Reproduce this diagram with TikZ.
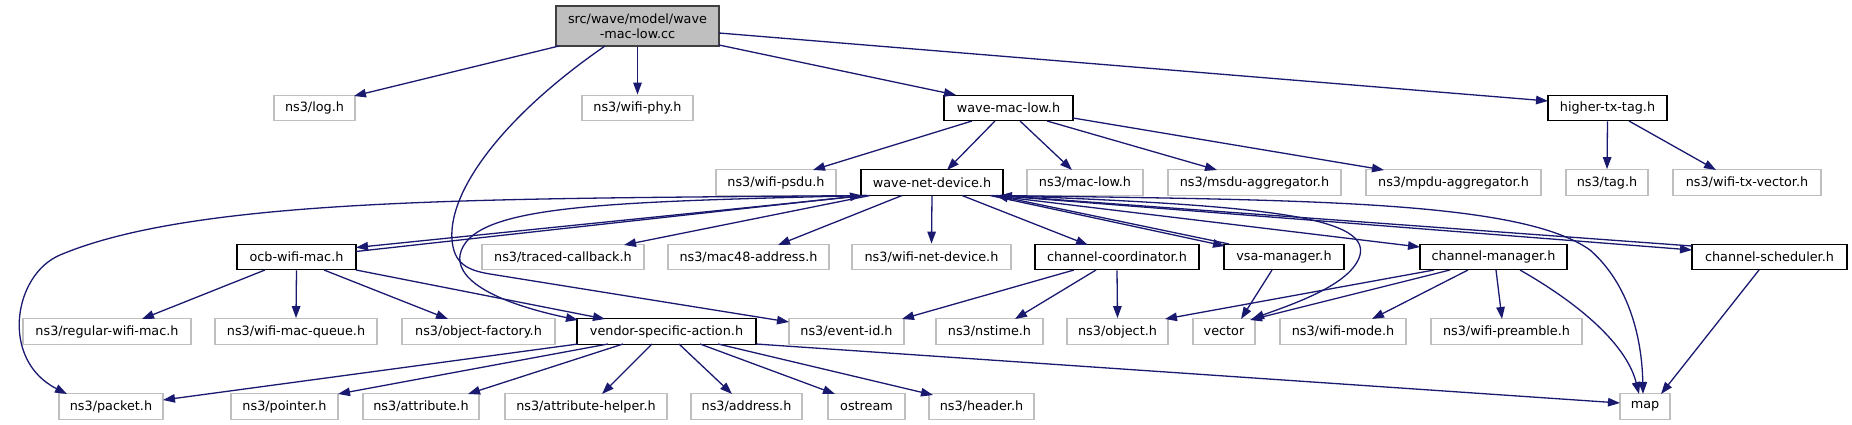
\documentclass[tikz,border=0pt]{standalone}
\usepackage{fontspec}
\setmainfont{DejaVu Sans}
\usetikzlibrary{arrows.meta,calc}
\definecolor{edgec}{HTML}{191970}
\definecolor{extb}{HTML}{BFBFBF}
\definecolor{rootf}{HTML}{BFBFBF}
\definecolor{rootb}{HTML}{404040}
\begin{document}
\begin{tikzpicture}[x=1pt,y=-1pt,
  box/.style={rectangle, inner sep=0pt, minimum height=25.5pt, font=\fontsize{12.8}{15}\selectfont, line width=1.3pt, fill=white},
  ext/.style={box, draw=extb},
  int/.style={box, draw=black},
  rootbox/.style={box, draw=rootb, fill=rootf, minimum height=40pt, align=center},
  edge/.style={draw=edgec, line width=1.3pt, -{Triangle[length=12pt,width=8.5pt]}},
]
\useasboundingbox (0,0) rectangle (1852,425);
% row 1
\node[rootbox, minimum width=163pt] (root) at (637.5,26) {src/wave/model/wave\\-mac-low.cc};
% row 2
\node[ext, minimum width=81pt] (log) at (314.5,108) {ns3/log.h};
\node[ext, minimum width=111pt] (wphy) at (637.5,108) {ns3/wifi-phy.h};
\node[int, minimum width=129pt] (wml) at (1008.5,108) {wave-mac-low.h};
\node[int, minimum width=119pt] (htt) at (1607.5,108) {higher-tx-tag.h};
% row 3
\node[ext, minimum width=120pt] (psdu) at (776,182.5) {ns3/wifi-psdu.h};
\node[int, minimum width=142pt] (wnd) at (932,182.5) {wave-net-device.h};
\node[ext, minimum width=116pt] (maclow) at (1085,182.5) {ns3/mac-low.h};
\node[ext, minimum width=173pt] (msdu) at (1254.5,182.5) {ns3/msdu-aggregator.h};
\node[ext, minimum width=175pt] (mpdu) at (1453.5,182.5) {ns3/mpdu-aggregator.h};
\node[ext, minimum width=82pt] (tag) at (1607,182.5) {ns3/tag.h};
\node[ext, minimum width=148pt] (wtv) at (1747,182.5) {ns3/wifi-tx-vector.h};
% row 4
\node[int, minimum width=119pt] (ocb) at (296.5,257) {ocb-wifi-mac.h};
\node[ext, minimum width=162pt] (traced) at (563,257) {ns3/traced-callback.h};
\node[ext, minimum width=161pt] (mac48) at (748.5,257) {ns3/mac48-address.h};
\node[ext, minimum width=159pt] (wnetdev) at (931.5,257) {ns3/wifi-net-device.h};
\node[int, minimum width=164pt] (chc) at (1117,257) {channel-coordinator.h};
\node[int, minimum width=120pt] (vsam) at (1284,257) {vsa-manager.h};
\node[int, minimum width=147pt] (chm) at (1493.5,257) {channel-manager.h};
\node[int, minimum width=155pt] (chs) at (1769.5,257) {channel-scheduler.h};
% row 5
\node[ext, minimum width=168pt] (regular) at (107,331.5) {ns3/regular-wifi-mac.h};
\node[ext, minimum width=162pt] (wmq) at (296,331.5) {ns3/wifi-mac-queue.h};
\node[ext, minimum width=153pt] (objf) at (478.5,331.5) {ns3/object-factory.h};
\node[int, minimum width=179pt] (vsact) at (666.5,331.5) {vendor-specific-action.h};
\node[ext, minimum width=115pt] (evid) at (846.5,331.5) {ns3/event-id.h};
\node[ext, minimum width=107pt] (nstime) at (989.5,331.5) {ns3/nstime.h};
\node[ext, minimum width=101pt] (object) at (1117.5,331.5) {ns3/object.h};
\node[ext, minimum width=62pt] (vector) at (1224,331.5) {vector};
\node[ext, minimum width=126pt] (wmode) at (1343,331.5) {ns3/wifi-mode.h};
\node[ext, minimum width=151pt] (wpre) at (1506.5,331.5) {ns3/wifi-preamble.h};
% row 6
\node[ext, minimum width=104pt] (packet) at (111,406.5) {ns3/packet.h};
\node[ext, minimum width=107pt] (pointer) at (284.5,406.5) {ns3/pointer.h};
\node[ext, minimum width=116pt] (attr) at (421,406.5) {ns3/attribute.h};
\node[ext, minimum width=162pt] (attrh) at (586,406.5) {ns3/attribute-helper.h};
\node[ext, minimum width=111pt] (address) at (746.5,406.5) {ns3/address.h};
\node[ext, minimum width=77pt] (ostream) at (866.5,406.5) {ostream};
\node[ext, minimum width=105pt] (header) at (981.5,406.5) {ns3/header.h};
\node[ext, minimum width=50pt] (map) at (1645,406.5) {map};

% root edges
\draw[edge] ($(root)+(-78.5,20)$) -- ($(log)+(39.5,-12)$);
\draw[edge] (root.south) -- (wphy.north);
\draw[edge] ($(root)+(81.5,19)$) -- ($(wml)+(-52.5,-13)$);
\draw[edge] ($(root)+(81.5,7)$) -- ($(htt)+(-59.5,-7)$);
\draw[edge] ($(root)+(-32.5,20)$) .. controls (505,115) and (448,190) .. (452,240)
  .. controls (454,262) and (465,270) .. (490,274) -- ($(evid)+(-57.5,-9.5)$);
% wave-mac-low edges
\draw[edge] ($(wml)+(-36.5,13)$) -- ($(psdu)+(37,-12.5)$);
\draw[edge] ($(wml)+(-13.5,13)$) -- ($(wnd)+(15,-12.5)$);
\draw[edge] ($(wml)+(11.5,13)$) -- ($(maclow)+(-13,-12.5)$);
\draw[edge] ($(wml)+(38.5,13)$) -- ($(msdu)+(-37.5,-12.5)$);
\draw[edge] ($(wml)+(64.5,10)$) -- ($(mpdu)+(-69.5,-12.5)$);
% higher-tx-tag edges
\draw[edge] (htt.south) -- (tag.north);
\draw[edge] ($(htt)+(21.5,13)$) -- ($(wtv)+(-31,-12.5)$);
% wave-net-device edges (left side)
\draw[edge] ($(wnd)+(-66,13)$) -- ($(ocb)+(59.5,-9.5)$);
\draw[edge] ($(ocb)+(59.5,-5.5)$) -- ($(wnd)+(-70,13)$);
\draw[edge] ($(wnd)+(-66,13)$) .. controls (500,199) and (200,196) .. (60,255)
  .. controls (13,275) and (0,360) .. ($(packet)+(-44,-12.5)$);
\draw[edge] ($(wnd)+(-64,13)$) .. controls (600,202) and (470,205) .. (460,255)
  .. controls (455,290) and (530,310) .. ($(vsact)+(-88.5,-11.5)$);
\draw[edge] ($(wnd)+(-62,13)$) -- ($(traced)+(61,-12)$);
\draw[edge] ($(wnd)+(-30,13)$) -- ($(mac48)+(29.5,-12)$);
\draw[edge] (wnd.south) -- (wnetdev.north);
\draw[edge] ($(wnd)+(30,13)$) -- ($(chc)+(-29,-12)$);
% wave-net-device edges (right side)
\draw[edge] ($(wnd)+(58,13)$) -- ($(vsam)+(-59,-11)$);
\draw[edge] ($(vsam)+(-55,-13)$) -- ($(wnd)+(64,13)$);
\draw[edge] ($(wnd)+(60,13)$) -- ($(chm)+(-73.5,-10)$);
\draw[edge] ($(wnd)+(64,13)$) -- ($(chs)+(-77.5,-7)$);
\draw[edge] ($(chs)+(-77.5,-11)$) -- ($(wnd)+(68,13)$);
\draw[edge] ($(wnd)+(70,13)$) .. controls (1250,205) and (1370,215) .. (1360,255)
  .. controls (1352,285) and (1290,305) .. ($(vector)+(28,-12.5)$);
\draw[edge] ($(wnd)+(68,13)$) .. controls (1300,200) and (1520,200) .. (1590,250)
  .. controls (1630,285) and (1642,340) .. ($(map)+(-2,-12.5)$);
% channel-coordinator edges
\draw[edge] ($(chc)+(-43,13)$) -- ($(evid)+(55.5,-12.5)$);
\draw[edge] ($(chc)+(-21,13)$) -- ($(nstime)+(25.5,-12.5)$);
\draw[edge] (chc.south) -- (object.north);
% vsa-manager edges
\draw[edge] ($(vsam)+(-12,13)$) -- ($(vector)+(17,-12.5)$);
% channel-manager edges
\draw[edge] ($(chm)+(-59.5,13)$) -- ($(object)+(47.5,-12.5)$);
\draw[edge] ($(chm)+(-43.5,13)$) -- ($(vector)+(26,-11.5)$);
\draw[edge] ($(chm)+(-25.5,13)$) -- ($(wmode)+(29,-12.5)$);
\draw[edge] ($(chm)+(2.5,13)$) -- ($(wpre)+(-4.5,-12.5)$);
\draw[edge] ($(chm)+(26.5,13)$) .. controls (1590,310) and (1628,350) .. ($(map)+(-6,-12.5)$);
% channel-scheduler edges
\draw[edge] ($(chs)+(-10.5,13)$) -- ($(map)+(16,-12.5)$);
% ocb-wifi-mac edges
\draw[edge] ($(ocb)+(-31.5,13)$) -- ($(regular)+(35,-12.5)$);
\draw[edge] (ocb.south) -- (wmq.north);
\draw[edge] ($(ocb)+(27.5,13)$) -- ($(objf)+(-30.5,-12.5)$);
\draw[edge] ($(ocb)+(59.5,13)$) -- ($(vsact)+(-61.5,-12.5)$);
% vendor-specific-action edges
\draw[edge] ($(vsact)+(-88.5,12.5)$) -- ($(packet)+(52,-6.5)$);
\draw[edge] ($(vsact)+(-58.5,12.5)$) -- ($(pointer)+(53.5,-12.5)$);
\draw[edge] ($(vsact)+(-43.5,12.5)$) -- ($(attr)+(47,-12.5)$);
\draw[edge] ($(vsact)+(-14.5,12.5)$) -- ($(attrh)+(16,-12.5)$);
\draw[edge] ($(vsact)+(12.5,12.5)$) -- ($(address)+(-14.5,-12.5)$);
\draw[edge] ($(vsact)+(33.5,12.5)$) -- ($(ostream)+(-31.5,-12.5)$);
\draw[edge] ($(vsact)+(51.5,12.5)$) -- ($(header)+(-48.5,-11.5)$);
\draw[edge] ($(vsact)+(89.5,12.5)$) -- ($(map)+(-25,-3.5)$);
\end{tikzpicture}
\end{document}
